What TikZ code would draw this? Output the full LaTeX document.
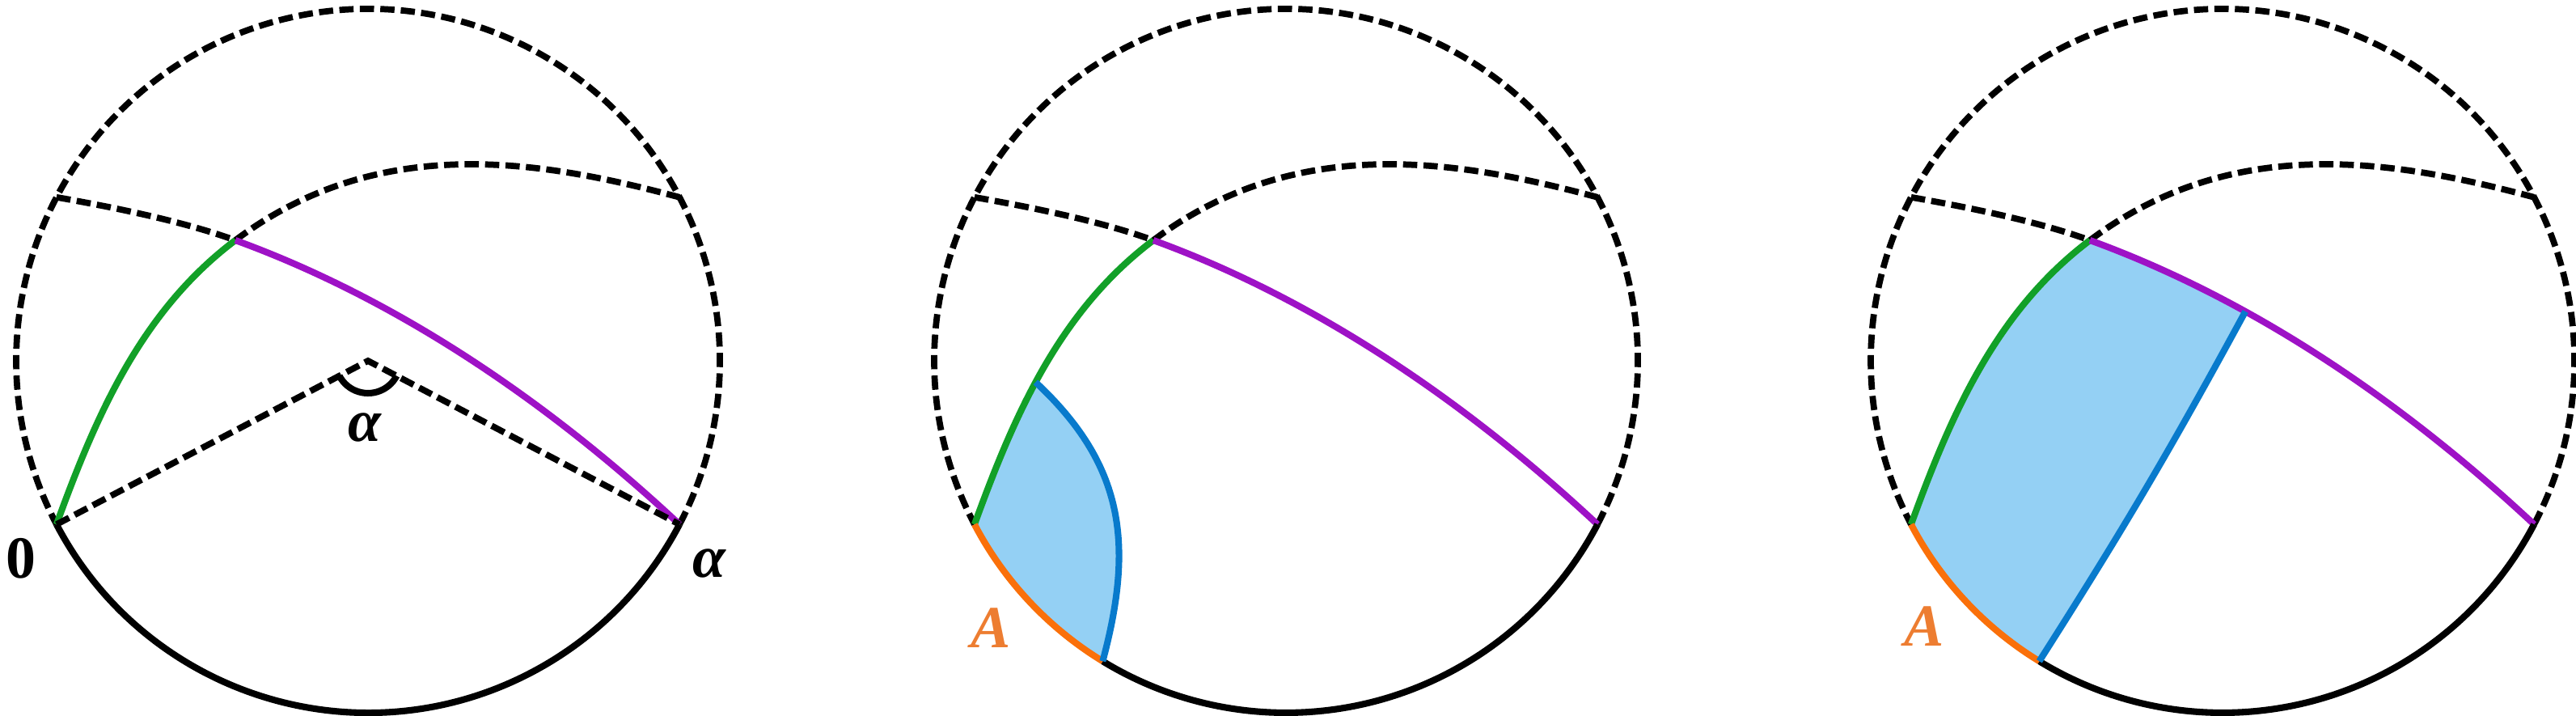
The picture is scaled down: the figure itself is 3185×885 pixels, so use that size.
\documentclass[tikz,border=0pt]{standalone}
\usepackage{fontspec}
\setmainfont{Liberation Serif}
\definecolor{cgreen}{RGB}{18,160,40}
\definecolor{cpurple}{RGB}{158,18,198}
\definecolor{cblue}{RGB}{8,122,204}
\definecolor{cfill}{RGB}{148,208,244}
\definecolor{corange}{RGB}{250,112,10}
\definecolor{clabel}{RGB}{237,125,49}
\tikzset{
  solidline/.style={line width=2.3pt},
  dashline/.style={line width=2.2pt, dash pattern=on 5pt off 2.2pt},
  lbl/.style={font=\fontsize{21}{22}\selectfont\bfseries, inner sep=0pt}
}
\newcommand\defpts[1]{%
  \coordinate (#1O) at (0,0);
  \coordinate (#1Z) at (207.7:435);
  \coordinate (#1W) at (-27.7:435);
  \coordinate (#1UL) at (152.3:435);
  \coordinate (#1UR) at (27.7:435);
  \coordinate (#1P) at (-164,149);
  \coordinate (#1L) at (238.6:435);
  \coordinate (#1G) at (-309.6,-26.4);
  \coordinate (#1T) at (28.2,61.0);
}
\newcommand\drawcurves[1]{%
  \draw[dashline] (#1W) arc[start angle=-27.7, end angle=207.7, radius=435];
  \draw[dashline] (#1P) .. controls (11.8,281.4) and (211.3,248.8) .. (#1UR);
  \draw[dashline] (#1UL) .. controls (-316.3,190) and (-229.8,172.9) .. (#1P);
  \draw[solidline,cgreen] (#1Z) .. controls (-335.6,-65.9) and (-279.9,61.7) .. (#1P);
  \draw[solidline,cpurple] (#1P) .. controls (52.2,70.3) and (239,-65.8) .. (#1W);
}
\begin{document}
\begin{tikzpicture}[x=0.01cm,y=0.01cm]
\useasboundingbox (0,0) rectangle (3185,885);
% panel 1
\begin{scope}[shift={(455,439)}]
  \defpts{a}
  \drawcurves{a}
  \draw[solidline] (aZ) arc[start angle=207.7, end angle=332.3, radius=435];
  \draw[dashline] (aZ) -- (aO) -- (aW);
  \coordinate (aAs) at (207.7:40);
  \draw[solidline] (aAs) arc[start angle=207.7, end angle=332.3, radius=40];
  \node[lbl] (lzero) at (-429,-244) {0};
  \node[lbl] (lalphaR) at (422,-250) {\textit{α}};
  \node[lbl] (lalphaC) at (-4,-82) {\textit{α}};
\end{scope}
% panel 2
\begin{scope}[shift={(1590,439)}]
  \defpts{b}
  \fill[cfill] (bZ) .. controls (-362.9,-140.9) and (-339.3,-81.3) .. (bG)
    .. controls (-199.9,-128.7) and (-187.7,-226.4) .. (bL)
    arc[start angle=238.6, end angle=207.7, radius=435] -- cycle;
  \drawcurves{b}
  \draw[solidline] (bL) arc[start angle=238.6, end angle=332.3, radius=435];
  \draw[solidline,corange] (bZ) arc[start angle=207.7, end angle=238.6, radius=435];
  \draw[solidline,cblue] (bG) .. controls (-199.9,-128.7) and (-187.7,-226.4) .. (bL);
  \node[lbl,text=clabel] (lAb) at (-365,-330) {\textit{A}};
\end{scope}
% panel 3
\begin{scope}[shift={(2748,439)}]
  \defpts{c}
  \fill[cfill] (cZ) .. controls (-335.6,-65.9) and (-279.9,61.7) .. (cP)
    .. controls (-97.0,124.6) and (-32.8,94.7) .. (cT)
    to[bend left=2] (cL)
    arc[start angle=238.6, end angle=207.7, radius=435] -- cycle;
  \drawcurves{c}
  \draw[solidline] (cL) arc[start angle=238.6, end angle=332.3, radius=435];
  \draw[solidline,corange] (cZ) arc[start angle=207.7, end angle=238.6, radius=435];
  \draw[solidline,cblue] (cT) to[bend left=2] (cL);
  \node[lbl,text=clabel] (lAc) at (-369,-328) {\textit{A}};
\end{scope}
\end{tikzpicture}
\end{document}
